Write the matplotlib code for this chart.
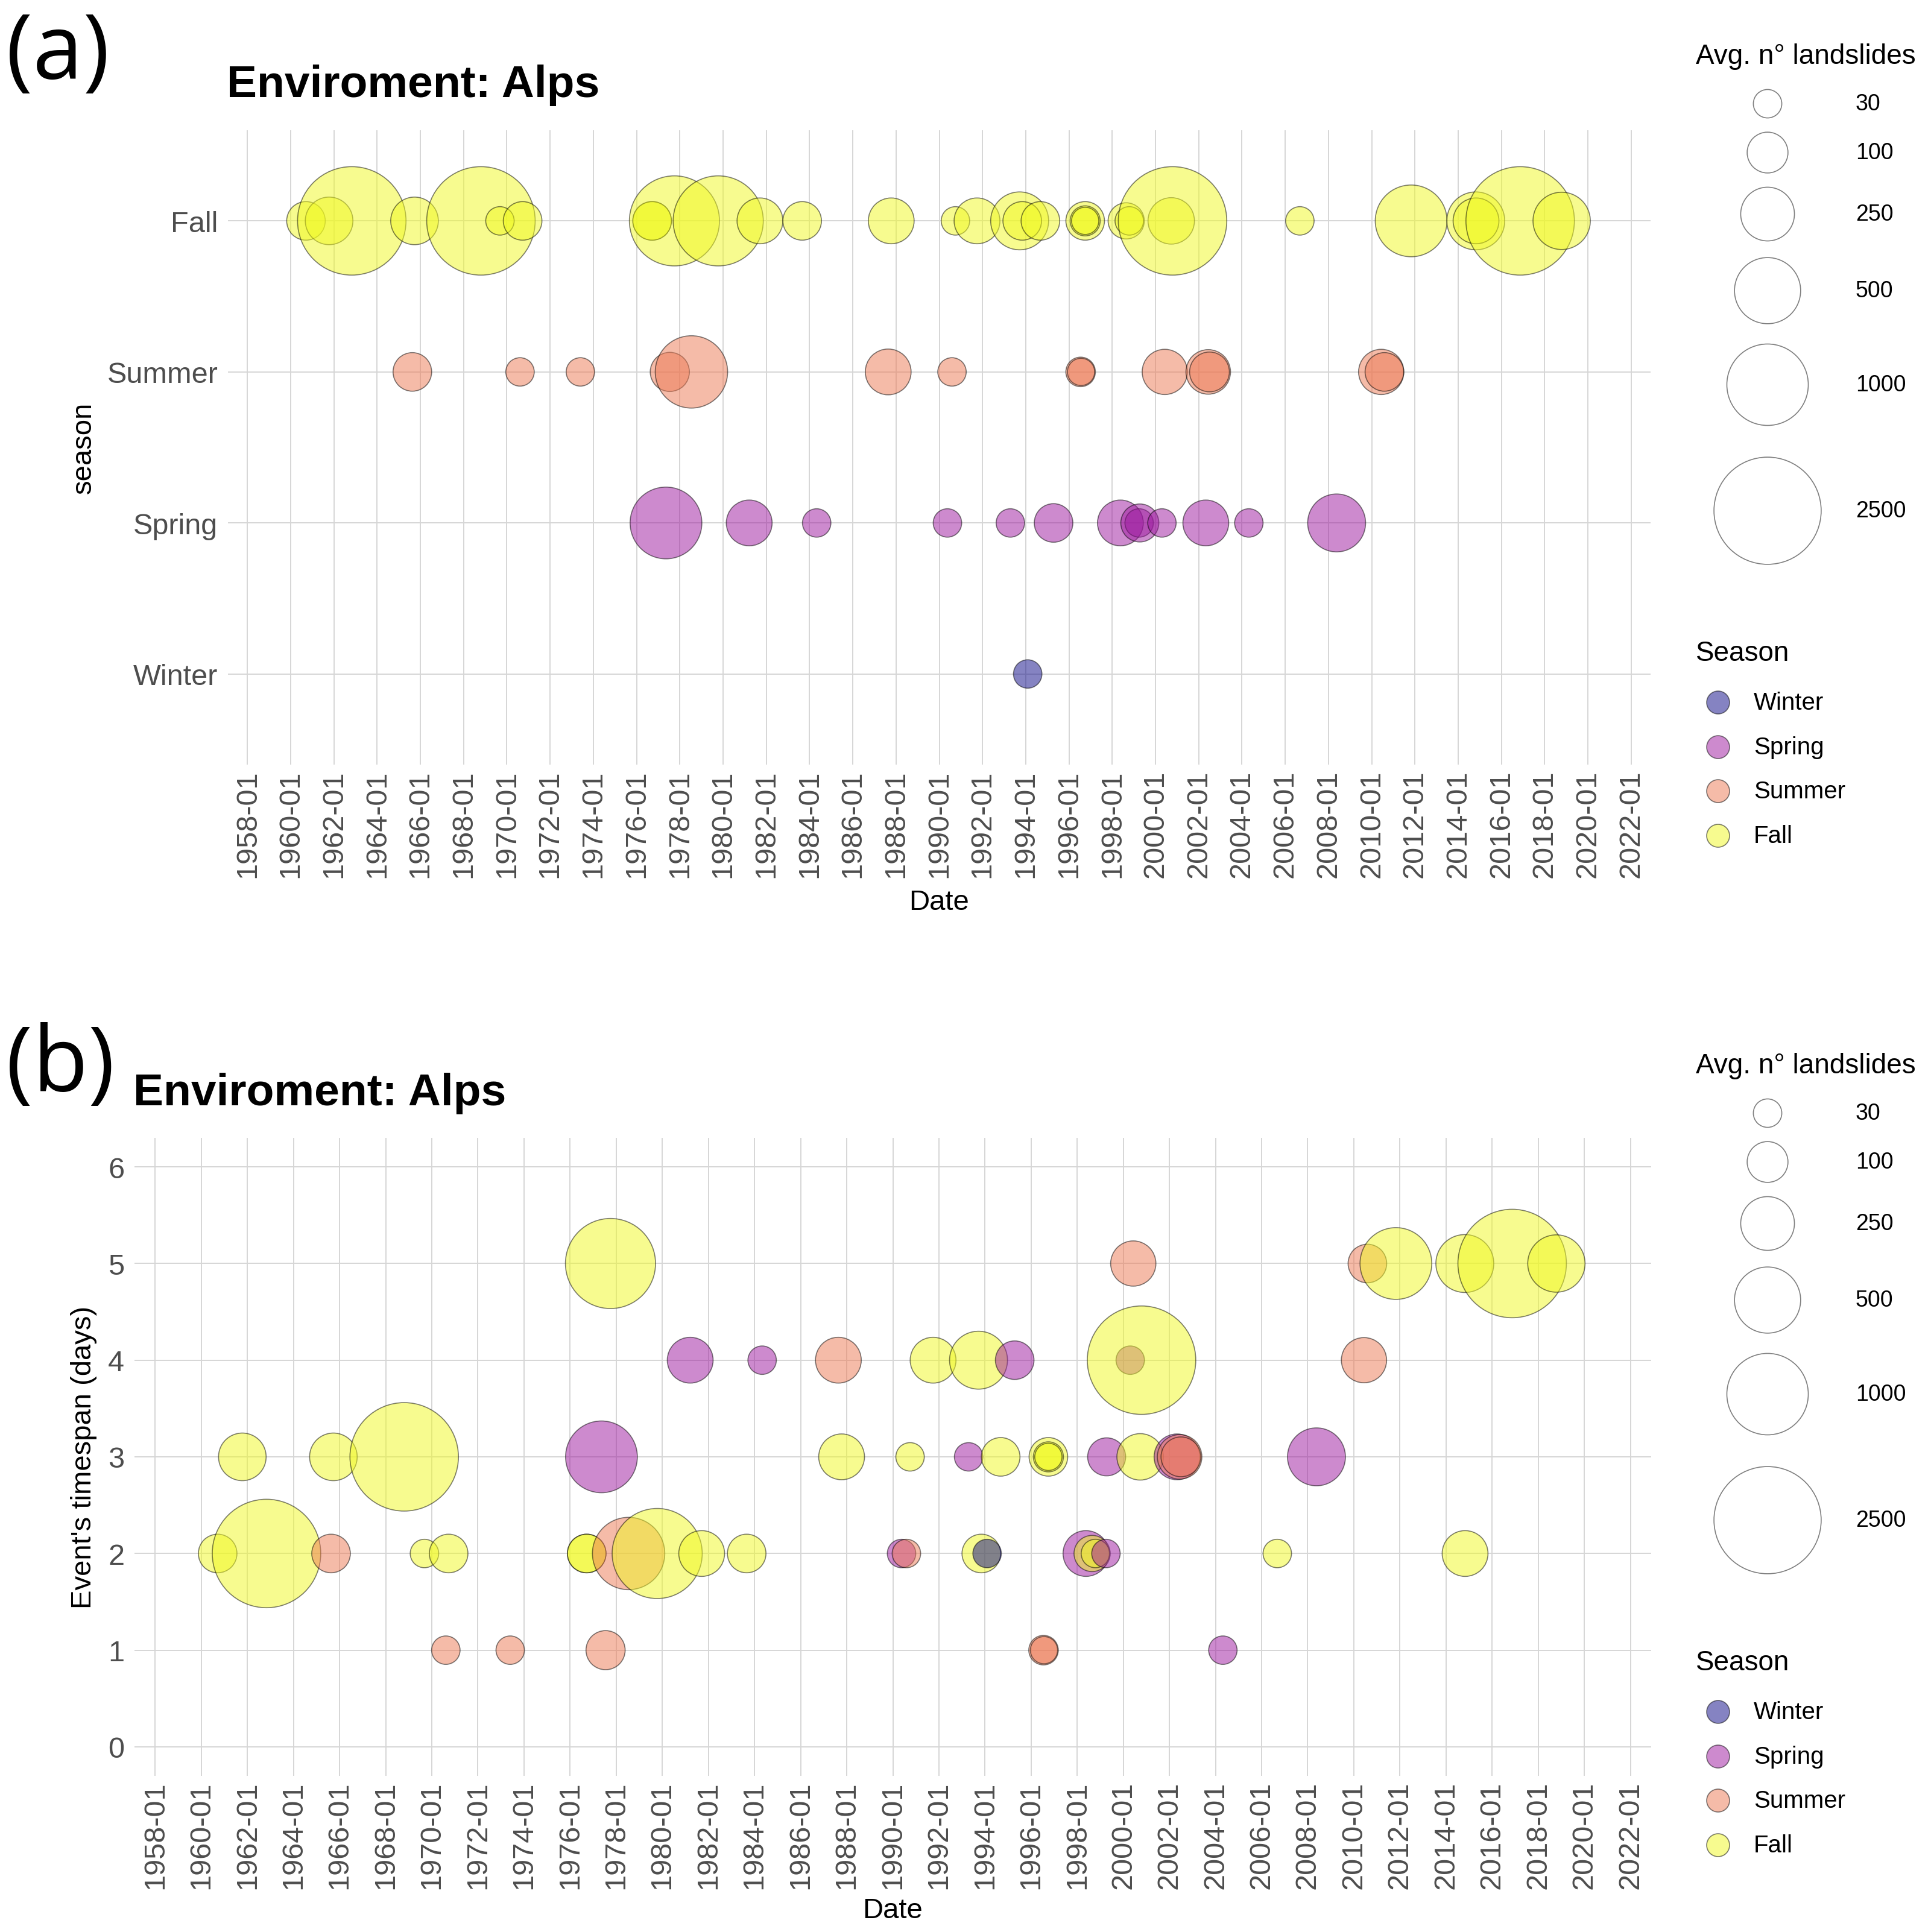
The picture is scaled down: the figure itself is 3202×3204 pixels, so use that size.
import matplotlib.pyplot as plt
import matplotlib.dates as mdates
from matplotlib.colors import to_rgba
import numpy as np
import pandas as pd

plt.rcParams['font.family'] = ['Liberation Sans', 'DejaVu Sans']

W, H, DPI = 3202, 3205, 200

seasons = ['Winter', 'Spring', 'Summer', 'Fall']
season_colors = ['#0D0887', '#9C179E', '#ED7953', '#F0F921']
size_breaks = [30, 100, 250, 500, 1000, 2500]

# events per season: date, timespan (days), avg n. of landslides
winter_dates = ['1994-02-03']
winter_days = [2]
winter_n = [30]

spring_dates = ['1977-05-12', '1981-03-18', '1984-05-01', '1990-05-19', '1993-04-16',
                '1995-04-16', '1998-05-19', '1999-04-01', '1999-04-12', '2000-04-20',
                '2002-05-01', '2004-04-27', '2008-05-19']
spring_days = [3, 4, 4, 2, 3, 4, 2, 2, 3, 4, 3, 1, 3]
spring_n = [656, 147, 30, 30, 30, 83, 147, 30, 79, 30, 147, 30, 321]

summer_dates = ['1965-08-18', '1970-08-11', '1973-05-27', '1977-07-16', '1978-07-16',
                '1987-08-22', '1990-08-04', '1996-07-16', '1996-07-23', '2000-06-07',
                '2002-06-11', '2002-07-02', '2010-06-11', '2010-08-04']
summer_days = [2, 1, 1, 1, 2, 4, 2, 1, 1, 5, 3, 3, 4, 5]
summer_n = [83, 30, 30, 87, 674, 147, 30, 34, 26, 141, 134, 92, 141, 83]

fall_dates = ['1960-09-16', '1961-10-12', '1962-10-30', '1965-09-24', '1968-10-20',
              '1969-09-06', '1970-09-24', '1976-09-20', '1976-09-20', '1977-10-02',
              '1979-10-12', '1981-09-16', '1983-08-30', '1987-10-12', '1990-10-01',
              '1991-10-01', '1993-09-20', '1993-11-03', '1994-09-06', '1996-10-01',
              '1996-10-01', '1996-10-01', '1998-08-25', '1998-10-16', '2000-09-24',
              '2000-10-16', '2006-09-06', '2011-10-30', '2014-10-26', '2014-10-30',
              '2016-11-14', '2018-10-16']
fall_days = [2, 3, 2, 3, 3, 2, 2, 2, 2, 5, 2, 2, 2, 3, 3, 4, 4, 2, 3, 3,
             3, 3, 2, 2, 3, 4, 2, 5, 5, 2, 5, 5]
fall_n = [83, 167, 2600, 167, 2600, 30, 83, 83, 83, 1400, 1400, 147, 83, 147, 30, 147,
          321, 83, 83, 83, 36, 26, 67, 30, 154, 2600, 30, 656, 321, 147, 2600, 310]

frames = []
for name, d, t, n in [('Winter', winter_dates, winter_days, winter_n),
                      ('Spring', spring_dates, spring_days, spring_n),
                      ('Summer', summer_dates, summer_days, summer_n),
                      ('Fall', fall_dates, fall_days, fall_n)]:
    frames.append(pd.DataFrame({'date': pd.to_datetime(d), 'season': name,
                                'days': t, 'n': n}))
df = pd.concat(frames).sort_values('date', kind='stable').reset_index(drop=True)


def marker_area(v):
    # bubble diameter in px (at 3202 px width) -> scatter area in pt^2
    d_px = 17 * np.power(np.asarray(v, dtype=float), 0.3)
    return (d_px * 72 / DPI) ** 2


fills = [to_rgba(season_colors[seasons.index(s)], 0.5) for s in df['season']]
edge = (0, 0, 0, 0.5)

fig = plt.figure(figsize=(W / DPI, H / DPI), dpi=DPI)


def px_axes(l, t, r, b):
    return fig.add_axes([l / W, 1 - b / H, (r - l) / W, (b - t) / H])


ax_a = px_axes(378, 217, 2737, 1269)
ax_b = px_axes(223, 1888, 2738, 2946)

xlim = (pd.Timestamp('1957-02-06'), pd.Timestamp('2022-11-26'))

season_y = df['season'].map({s: i + 1 for i, s in enumerate(seasons)})
ax_a.scatter(df['date'], season_y, s=marker_area(df['n']), c=fills,
             edgecolors=edge, linewidths=0.6, zorder=3)
ax_a.set_yticks(range(1, 5), labels=seasons)
ax_a.set_ylim(0.4, 4.6)

ax_b.scatter(df['date'], df['days'], s=marker_area(df['n']), c=fills,
             edgecolors=edge, linewidths=0.6, zorder=3)
ax_b.set_yticks(range(0, 7))
ax_b.set_ylim(-0.3, 6.3)

for ax in (ax_a, ax_b):
    ax.set_xlim(xlim)
    ax.xaxis.set_major_locator(mdates.YearLocator(2, month=1, day=1))
    ax.xaxis.set_major_formatter(mdates.DateFormatter('%Y-%m'))
    ax.tick_params(length=0, labelsize=17.5, labelcolor='#4D4D4D')
    ax.tick_params(axis='x', rotation=90, pad=3)
    ax.tick_params(axis='y', pad=6)
    for sp in ax.spines.values():
        sp.set_visible(False)
    ax.grid(True, color='#D6D6D6', linewidth=0.7)
    ax.set_axisbelow(True)

# overlay in pixel coordinates for titles, labels and legends
ov = fig.add_axes([0, 0, 1, 1])
ov.set_xlim(0, W)
ov.set_ylim(H, 0)
ov.axis('off')

ov.text(10, 131, '(a)', fontsize=54, family='Open Sans', va='baseline')
ov.text(10, 1810, '(b)', fontsize=54, family='Open Sans', va='baseline')
ov.text(376, 161, 'Enviroment: Alps', fontsize=27, fontweight='bold', va='baseline')
ov.text(221, 1833, 'Enviroment: Alps', fontsize=27, fontweight='bold', va='baseline')

ov.text(1557, 1497, 'Date', fontsize=17, ha='center', va='center')
ov.text(1480, 3169, 'Date', fontsize=17, ha='center', va='center')
ov.text(139, 743, 'season', fontsize=17, ha='center', va='center', rotation=90)
ov.text(139, 2417, "Event's timespan (days)", fontsize=17, ha='center', va='center',
        rotation=90)

size_key_y = [173, 254, 356, 483, 639, 848]
season_key_y = [1166, 1240, 1313, 1387]
for dy in (0, 1674):
    ov.text(2812, 94 + dy, 'Avg. n° landslides', fontsize=16.5, va='center')
    ov.scatter([2931] * len(size_breaks), np.array(size_key_y) + dy,
               s=marker_area(size_breaks), facecolors='none', edgecolors=edge,
               linewidths=0.6)
    for v, y in zip(size_breaks, size_key_y):
        ov.text(3077, y + dy, str(v), fontsize=13.5, va='center')
    ov.text(2812, 1084 + dy, 'Season', fontsize=16.5, va='center')
    ov.scatter([2849] * 4, np.array(season_key_y) + dy, s=(38 * 72 / DPI) ** 2,
               c=[to_rgba(c, 0.5) for c in season_colors], edgecolors=edge,
               linewidths=0.6)
    for s, y in zip(seasons, season_key_y):
        ov.text(2908, y + dy, s, fontsize=14.5, va='center')

fig.savefig('out.png', dpi=DPI)
